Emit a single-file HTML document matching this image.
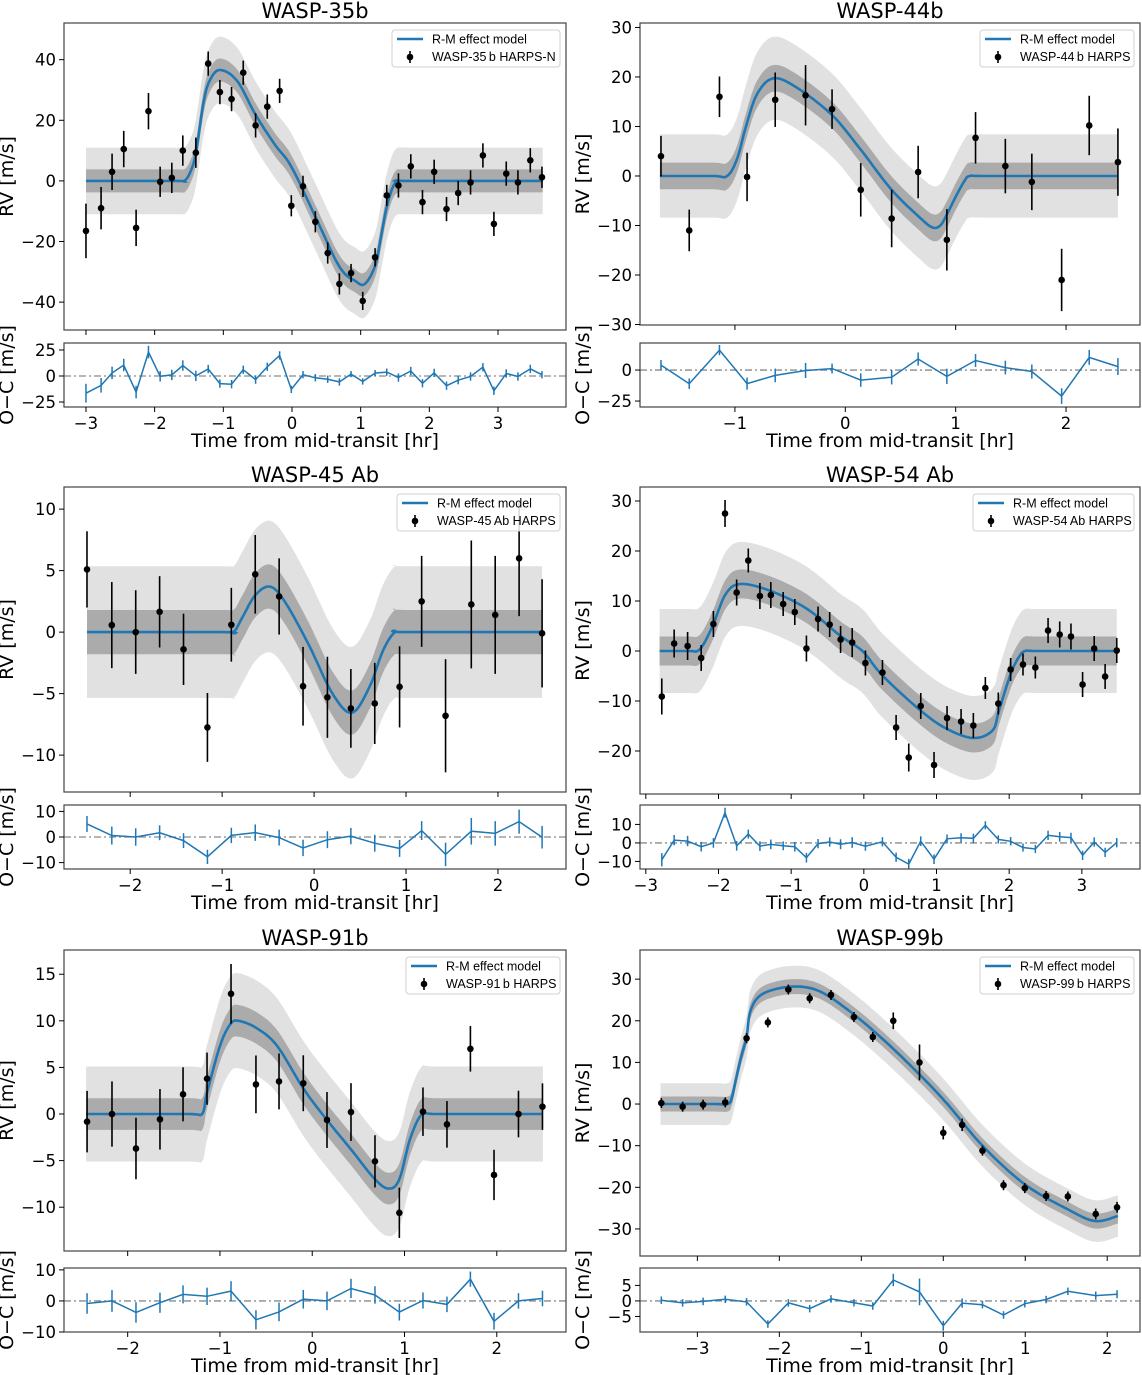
<!DOCTYPE html>
<html><head><meta charset="utf-8"><title>R-M effect fits</title>
<style>
html,body{margin:0;padding:0;background:#fff;}
svg{display:block;font-family:"DejaVu Sans","Liberation Sans",sans-serif;}
.leg{font-family:"Liberation Sans","DejaVu Sans",sans-serif;}
</style></head>
<body>
<svg id="fig" width="1142" height="1375" viewBox="0 0 1142 1375" xmlns="http://www.w3.org/2000/svg"></svg>
<script>
// ===== WASP-35b data =====
const p1Time = [-3.0,-2.78,-2.62,-2.45,-2.27,-2.09,-1.92,-1.75,-1.59,-1.40,-1.22,-1.05,-0.88,-0.71,-0.53,-0.36,-0.18,-0.01,0.16,0.34,0.52,0.69,0.86,1.03,1.21,1.38,1.55,1.73,1.90,2.07,2.25,2.42,2.60,2.78,2.94,3.12,3.29,3.47,3.64];
const p1RV = [-16.5,-9,3,10.5,-15.5,23,-0.3,1,10,9.3,38.7,29.3,27,35.7,18.3,24.5,29.7,-8.2,-1.8,-13.5,-23.8,-34,-30.4,-39.6,-25.2,-4.8,-1.5,4.8,-7,3,-9.3,-4,-0.5,8.4,-14.2,2.4,-0.5,6.8,1.2];
const p1Err = [9,7,6,6,6,6,5,5,5,5,4,4,4,4,4,4,4,3.5,3.5,3.5,3.5,3.5,3,3,3,3.5,4,4,4,4,4,4,4,4,4,4,4,4,3.5];
const p1ModelT = [-3.0,-1.7,-1.57,-1.48,-1.40,-1.29,-1.2,-1.05,-0.8,-0.53,-0.25,-0.01,0.34,0.69,0.92,1.06,1.21,1.30,1.38,1.47,1.55,1.7,3.65];
const p1ModelV = [0,0,0,3,9.2,25.7,33,36.6,33,21.8,12,4.7,-11.8,-28.3,-33,-34,-28,-18,-8.5,-2,0,0,0];
// ===== WASP-44b data =====
const p2Time = [-1.67,-1.414,-1.14,-0.89,-0.635,-0.36,-0.12,0.14,0.42,0.66,0.92,1.18,1.45,1.69,1.96,2.21,2.47];
const p2RV = [4,-11,16,-0.2,15.4,16.3,13.5,-2.8,-8.6,0.8,-12.9,7.7,2,-1.2,-21,10.2,2.8];
const p2Err = [4.1,4.2,4.1,4.9,5.5,6.1,4,5.4,5.8,5.3,6.2,5.2,5.5,5.7,6.3,6,6.8];
const p2ModelT = [-1.68,-1.2,-1.07,-0.98,-0.9,-0.8,-0.655,-0.45,-0.12,0.14,0.42,0.68,0.79,0.86,0.92,1.0,1.08,1.13,1.3,2.47];
const p2ModelV = [0,0,0,3.5,10,16.5,19.7,18,12.3,5.3,-2.8,-8.5,-10.4,-10,-7.8,-4.2,-1,0,0,0];
// ===== WASP-45Ab data =====
const p3Time = [-2.47,-2.2,-1.94,-1.68,-1.42,-1.16,-0.9,-0.64,-0.38,-0.12,0.145,0.40,0.66,0.93,1.17,1.43,1.71,1.97,2.23,2.48];
const p3RV = [5.1,0.57,0,1.65,-1.4,-7.75,0.6,4.7,2.9,-4.4,-5.3,-6.2,-5.8,-4.45,2.5,-6.8,2.25,1.4,6.0,-0.1];
const p3Err = [3.1,3.5,3.4,2.9,2.9,2.8,3,3.2,3.1,3.2,3.3,3.2,3.3,3.3,3.7,4.6,5.2,4.8,4.7,4.4];
const p3ModelT = [-2.47,-1.0,-0.877,-0.78,-0.64,-0.48,-0.32,-0.06,0.2,0.41,0.6,0.75,0.88,1.0,2.48];
const p3ModelV = [0,0,0,1.2,3.0,3.7,2.5,-1.0,-5.0,-6.55,-4.5,-1.5,0,0,0];
// ===== WASP-54Ab data =====
const p4Time = [-2.78,-2.61,-2.425,-2.238,-2.07,-1.91,-1.75,-1.59,-1.43,-1.28,-1.11,-0.95,-0.79,-0.63,-0.47,-0.32,-0.16,0.022,0.256,0.444,0.618,0.783,0.966,1.145,1.338,1.507,1.672,1.85,2.02,2.19,2.36,2.535,2.695,2.85,3.01,3.17,3.32,3.48];
const p4RV = [-9.1,1.5,1.0,-1.4,5.4,27.5,11.7,18.1,11.0,11.2,9.4,7.8,0.5,6.4,5.3,2.3,1.7,-2.4,-4.3,-15.3,-21.3,-11.0,-22.8,-13.4,-14.1,-14.9,-7.4,-10.5,-3.7,-2.7,-3.3,4.1,3.3,2.9,-6.7,0.5,-5.1,0.1];
const p4Err = [3.6,2.8,2.8,2.6,2.6,2.7,2.6,2.4,2.6,2.6,2.4,2.6,2.6,2.5,2.5,2.7,2.9,2.5,2.5,2.5,2.8,2.6,2.6,2.4,2.5,2.5,2.2,2.2,2.3,2.2,2.2,2.5,2.6,2.6,2.5,2.5,2.5,2.5];
const p4ModelT = [-2.81,-2.4,-2.29,-2.2,-2.07,-1.9,-1.7,-1.3,-0.79,-0.32,-0.02,0.256,0.78,1.145,1.51,1.77,1.86,2.02,2.13,2.22,2.4,3.48];
const p4ModelV = [0,0,0,1.5,5.4,11.4,13.4,12.1,8.5,3.0,0,-4.9,-11.9,-15.6,-17.4,-15.9,-11.9,-4.6,-1.3,0,0,0];
// ===== WASP-91b data =====
const p5Time = [-2.44,-2.17,-1.91,-1.65,-1.40,-1.14,-0.88,-0.61,-0.36,-0.097,0.16,0.42,0.68,0.944,1.2,1.46,1.714,1.97,2.235,2.495];
const p5RV = [-0.82,0.0,-3.7,-0.57,2.11,3.79,12.9,3.18,3.5,3.3,-0.64,0.21,-5.08,-10.6,0.25,-1.11,7.0,-6.54,0.0,0.79];
const p5Err = [3.3,3.5,3.3,3.25,2.9,2.8,3.2,3.1,3,3,3,3.1,2.8,2.7,2.6,2.5,2.45,2.7,2.5,2.5];
const p5ModelT = [-2.45,-1.35,-1.195,-1.14,-1.0,-0.89,-0.8,-0.6,-0.38,-0.1,0.14,0.42,0.68,0.83,0.944,1.06,1.19,1.35,2.5];
const p5ModelV = [0,0,0,2.3,7.3,9.6,10.0,9.2,7.3,2.8,-0.4,-3.8,-7.0,-8.0,-7.0,-2.7,0,0,0];
// ===== WASP-99b data =====
const p6Time = [-3.44,-3.18,-2.93,-2.66,-2.40,-2.14,-1.89,-1.63,-1.37,-1.09,-0.86,-0.61,-0.29,0.0,0.23,0.478,0.735,0.995,1.255,1.52,1.86,2.12];
const p6RV = [0.24,-0.64,-0.16,0.4,15.8,19.6,27.5,25.4,26.2,20.9,16.1,20.0,10.0,-6.9,-5.0,-11.2,-19.5,-20.2,-22.1,-22.2,-26.4,-24.8];
const p6Err = [1.2,1.2,1.2,1.2,1.2,1.2,1.2,1.2,1.2,1.2,1.2,2,4.3,1.6,1.5,1.2,1.2,1.2,1.2,1.2,1.3,1.3];
const p6ModelT = [-3.45,-2.8,-2.63,-2.58,-2.53,-2.47,-2.4,-2.35,-2.2,-1.84,-1.5,-1.09,-0.7,-0.29,0.05,0.478,0.995,1.52,1.85,2.13];
const p6ModelV = [0,0,0,1.5,5.9,11,16.1,22.5,26.5,28.2,27.0,21.5,14.9,7.1,0,-10,-19.3,-25.3,-28.1,-26.9];

// tick label arrays
const p1XTicks=[-3,-2,-1,0,1,2,3], p1YTicks=[-40,-20,0,20,40], p1RTicks=[-25,0,25];
const p2XTicks=[-1,0,1,2], p2YTicks=[-30,-20,-10,0,10,20,30], p2RTicks=[-25,0];
const p3XTicks=[-2,-1,0,1,2], p3YTicks=[-10,-5,0,5,10], p3RTicks=[-10,0,10];
const p4XTicks=[-3,-2,-1,0,1,2,3], p4YTicks=[-20,-10,0,10,20,30], p4RTicks=[-10,0,10];
const p5XTicks=[-2,-1,0,1,2], p5YTicks=[-10,-5,0,5,10,15], p5RTicks=[-10,0,10];
const p6XTicks=[-3,-2,-1,0,1,2], p6YTicks=[-30,-20,-10,0,10,20,30], p6RTicks=[-5,0,5];

const NS='http://www.w3.org/2000/svg';
const svg=document.getElementById('fig');
function mk(tag,attrs,parent){const e=document.createElementNS(NS,tag);for(const k in attrs)e.setAttribute(k,attrs[k]);(parent||svg).appendChild(e);return e;}

function catmull(ts,vs,per){
  const out=[];
  for(let i=0;i<ts.length-1;i++){
    const p0=[ts[Math.max(i-1,0)],vs[Math.max(i-1,0)]],p1=[ts[i],vs[i]],p2=[ts[i+1],vs[i+1]],p3=[ts[Math.min(i+2,ts.length-1)],vs[Math.min(i+2,ts.length-1)]];
    for(let j=0;j<per;j++){
      const s=j/per,s2=s*s,s3=s2*s;
      const f=(a,b,c,d)=>0.5*((2*b)+(-a+c)*s+(2*a-5*b+4*c-d)*s2+(-a+3*b-3*c+d)*s3);
      out.push([f(p0[0],p1[0],p2[0],p3[0]),f(p0[1],p1[1],p2[1],p3[1])]);
    }
  }
  out.push([ts[ts.length-1],vs[vs.length-1]]);
  return out;
}
function evalAt(samples,t){
  if(t<=samples[0][0])return samples[0][1];
  for(let i=1;i<samples.length;i++){if(samples[i][0]>=t){const a=samples[i-1],b=samples[i];const f=(t-a[0])/((b[0]-a[0])||1);return a[1]+f*(b[1]-a[1]);}}
  return samples[samples.length-1][1];
}

function panel(cfg){
  const g=mk('g',{});
  
  
  const X=t=>cfg.box[0]+(t-cfg.xd[0])/(cfg.xd[1]-cfg.xd[0])*(cfg.box[2]-cfg.box[0]);
  const Y=v=>cfg.box[1]+(cfg.yd[0]-v)/(cfg.yd[0]-cfg.yd[1])*(cfg.box[3]-cfg.box[1]);
  const R=v=>cfg.rbox[0]+(cfg.rd[0]-v)/(cfg.rd[0]-cfg.rd[1])*(cfg.rbox[1]-cfg.rbox[0]);
  const bl=cfg.box[0],br=cfg.box[2];
  const ti=mk('text',{x:(bl+br)/2,y:cfg.box[1]-5,'text-anchor':'middle','font-size':21},g);ti.textContent=cfg.title;
  
  const samples=catmull(cfg.mt,cfg.mv,12);
  const band=(w,col,name)=>{
    let d='M'+samples.map(p=>X(p[0]).toFixed(1)+','+Y(p[1]+w).toFixed(1)).join('L');
    d+='L'+samples.slice().reverse().map(p=>X(p[0]).toFixed(1)+','+Y(p[1]-w).toFixed(1)).join('L')+'Z';
    const b=mk('path',{d:d,fill:col,stroke:'none'},g);
    
  };
  band(cfg.lw,'#e1e1e1','outer-uncertainty-band');
  band(cfg.dw,'#ababab','inner-uncertainty-band');
  const ml=mk('path',{d:'M'+samples.map(p=>X(p[0]).toFixed(1)+','+Y(p[1]).toFixed(1)).join('L'),fill:'none',stroke:'#1f77b4','stroke-width':2.6},g);
  
  for(let i=0;i<cfg.t.length;i++){
    const x=X(cfg.t[i]);
    const eb=mk('line',{x1:x,x2:x,y1:Y(cfg.v[i]+cfg.e[i]),y2:Y(cfg.v[i]-cfg.e[i]),stroke:'#000','stroke-width':1.6},g);
    
    const c=mk('circle',{cx:x,cy:Y(cfg.v[i]),r:3.3,fill:'#000'},g);
    
  }
  const mb=mk('rect',{x:bl,y:cfg.box[1],width:br-bl,height:cfg.box[3]-cfg.box[1],fill:'none',stroke:'#444','stroke-width':1.2},g);
  
  cfg.yt.forEach(v=>{const y=Y(v);mk('line',{x1:bl-5,x2:bl,y1:y,y2:y,stroke:'#000','stroke-width':1},g);
    const tx=mk('text',{x:bl-8,y:y+6,'text-anchor':'end','font-size':16.5},g);tx.textContent=v<0?'\u2212'+(-v):String(v);
    });
  cfg.xt.forEach(t=>{const x=X(t);mk('line',{x1:x,x2:x,y1:cfg.box[3],y2:cfg.box[3]+5,stroke:'#000','stroke-width':1},g);});
  const yl=mk('text',{x:0,y:0,'text-anchor':'middle','font-size':19,transform:`translate(${bl-51},${(cfg.box[1]+cfg.box[3])/2}) rotate(-90)`},g);
  yl.textContent='RV [m/s]';
  const lw=cfg.legW,lx=br-6-lw,ly=cfg.box[1]+7;
  const lg=mk('g',{class:'leg'},g);
  mk('rect',{x:lx,y:ly,width:lw,height:37,rx:3,fill:'#fff','fill-opacity':0.85,stroke:'#d0d0d0','stroke-width':1},lg);
  mk('line',{x1:lx+5,x2:lx+31,y1:ly+9,y2:ly+9,stroke:'#1f77b4','stroke-width':2.6},lg);
  const t1=mk('text',{x:lx+40,y:ly+13.5,'font-size':12.5},lg);t1.textContent='R-M effect model';
  
  mk('line',{x1:lx+18,x2:lx+18,y1:ly+21,y2:ly+33,stroke:'#000','stroke-width':1.6},lg);
  mk('circle',{cx:lx+18,cy:ly+27,r:3.3,fill:'#000'},lg);
  const t2=mk('text',{x:lx+40,y:ly+31,'font-size':12.5},lg);t2.textContent=cfg.legend;
  
  const rg=mk('g',{},g);
  const z=R(0);
  const zl=mk('line',{x1:bl,x2:br,y1:z,y2:z,stroke:'#8a8a8a','stroke-width':1.3,'stroke-dasharray':'7,3,2,3'},rg);
  
  const oc=cfg.t.map((t,i)=>cfg.v[i]-evalAt(samples,t));
  const rl=mk('path',{d:'M'+cfg.t.map((t,i)=>X(t).toFixed(1)+','+R(oc[i]).toFixed(1)).join('L'),fill:'none',stroke:'#1f77b4','stroke-width':1.5},rg);
  
  cfg.t.forEach((t,i)=>{const x=X(t);
    const re=mk('line',{x1:x,x2:x,y1:R(oc[i]+cfg.e[i]),y2:R(oc[i]-cfg.e[i]),stroke:'#1f77b4','stroke-width':1.5},rg);
    });
  const rb=mk('rect',{x:bl,y:cfg.rbox[0],width:br-bl,height:cfg.rbox[1]-cfg.rbox[0],fill:'none',stroke:'#444','stroke-width':1.2},rg);
  
  cfg.rt.forEach(v=>{const y=R(v);mk('line',{x1:bl-5,x2:bl,y1:y,y2:y,stroke:'#000','stroke-width':1},rg);
    const tx=mk('text',{x:bl-8,y:y+6,'text-anchor':'end','font-size':16.5},rg);tx.textContent=v<0?'\u2212'+(-v):String(v);
    });
  cfg.xt.forEach(t=>{const x=X(t);mk('line',{x1:x,x2:x,y1:cfg.rbox[1],y2:cfg.rbox[1]+5,stroke:'#000','stroke-width':1},rg);
    const tx=mk('text',{x:x,y:cfg.rbox[1]+22,'text-anchor':'middle','font-size':16.5},rg);tx.textContent=t<0?'\u2212'+(-t):String(t);
    });
  const rl2=mk('text',{x:0,y:0,'text-anchor':'middle','font-size':19,transform:`translate(${bl-51},${(cfg.rbox[0]+cfg.rbox[1])/2}) rotate(-90)`},rg);
  rl2.textContent='O\u2212C [m/s]';
  const xl=mk('text',{x:(bl+br)/2,y:cfg.rbox[1]+40,'text-anchor':'middle','font-size':19},rg);
  xl.textContent='Time from mid-transit [hr]';
}

panel({id:'wasp-35b',title:'WASP-35b',legend:'WASP-35\u2009b HARPS-N',legW:168,box:[64,23,566,330],xd:[-3.32,3.99],yd:[52.1,-49.2],rbox:[343,407],rd:[31.7,-29.8],
  t:p1Time,v:p1RV,e:p1Err,mt:p1ModelT,mv:p1ModelV,lw:11,dw:3.8,xt:p1XTicks,yt:p1YTicks,rt:p1RTicks});
panel({id:'wasp-44b',title:'WASP-44b',legend:'WASP-44\u2009b HARPS',legW:154,box:[640,23,1140,325],xd:[-1.86,2.67],yd:[30.9,-30.1],rbox:[343,407],rd:[21.8,-29.8],
  t:p2Time,v:p2RV,e:p2Err,mt:p2ModelT,mv:p2ModelV,lw:8.4,dw:2.7,xt:p2XTicks,yt:p2YTicks,rt:p2RTicks});
panel({id:'wasp-45ab',title:'WASP-45 Ab',legend:'WASP-45\u2009Ab HARPS',legW:163,box:[64,487,566,792],xd:[-2.72,2.74],yd:[11.8,-13.0],rbox:[805,869],rd:[12.5,-12.5],
  t:p3Time,v:p3RV,e:p3Err,mt:p3ModelT,mv:p3ModelV,lw:5.35,dw:1.8,xt:p3XTicks,yt:p3YTicks,rt:p3RTicks});
panel({id:'wasp-54ab',title:'WASP-54 Ab',legend:'WASP-54\u2009Ab HARPS',legW:161,box:[640,487,1140,794],xd:[-3.08,3.80],yd:[32.8,-28.6],rbox:[805,869],rd:[20.5,-14.1],
  t:p4Time,v:p4RV,e:p4Err,mt:p4ModelT,mv:p4ModelV,lw:8.4,dw:2.9,xt:p4XTicks,yt:p4YTicks,rt:p4RTicks});
panel({id:'wasp-91b',title:'WASP-91b',legend:'WASP-91\u2009b HARPS',legW:154,box:[64,950,566,1251],xd:[-2.69,2.75],yd:[17.6,-14.7],rbox:[1268,1332],rd:[10.6,-10],
  t:p5Time,v:p5RV,e:p5Err,mt:p5ModelT,mv:p5ModelV,lw:5.1,dw:1.7,xt:p5XTicks,yt:p5YTicks,rt:p5RTicks});
panel({id:'wasp-99b',title:'WASP-99b',legend:'WASP-99\u2009b HARPS',legW:154,box:[640,950,1140,1256],xd:[-3.70,2.40],yd:[37.0,-36.5],rbox:[1268,1332],rd:[10.6,-10],
  t:p6Time,v:p6RV,e:p6Err,mt:p6ModelT,mv:p6ModelV,lw:5.0,dw:1.8,xt:p6XTicks,yt:p6YTicks,rt:p6RTicks});
</script>
</body></html>
